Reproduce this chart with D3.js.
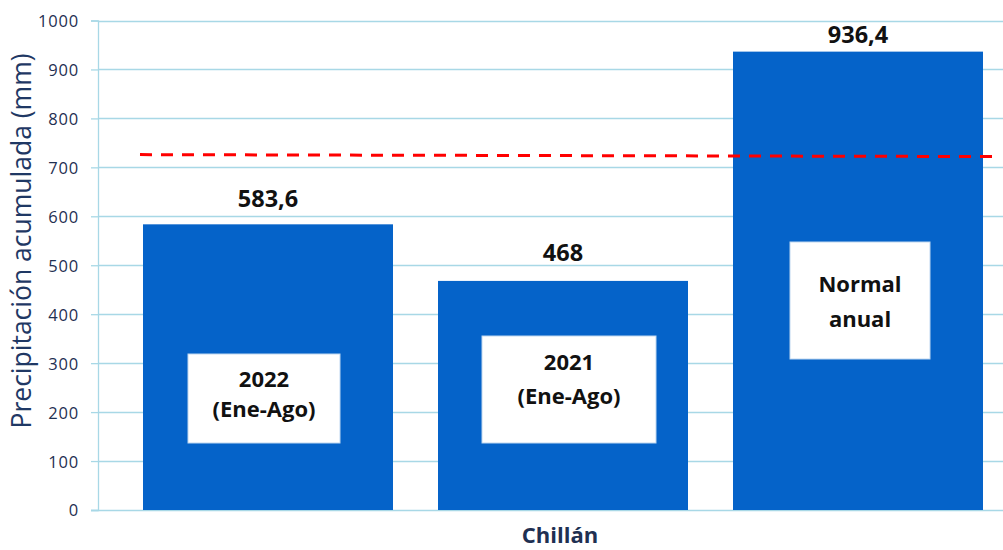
<!DOCTYPE html>
<html><head><meta charset="utf-8">
<script src="https://cdn.jsdelivr.net/npm/d3@7"></script>
<style>
html,body{margin:0;padding:0;background:#fff;}
svg{display:block;}
</style></head>
<body>
<svg id="chart" width="1003" height="550"></svg>
<script>
// ---- data ----
const categories = ["Chillán"];
const seriesNames = ["2022 (Ene-Ago)", "2021 (Ene-Ago)", "Normal anual"];
const seriesValues = [583.6, 468, 936.4];
const valueLabels = ["583,6", "468", "936,4"];
const boxLines = [["2022", "(Ene-Ago)"], ["2021", "(Ene-Ago)"], ["Normal", "anual"]];
const refLineValues = [726, 722];
const yTicks = [0, 100, 200, 300, 400, 500, 600, 700, 800, 900, 1000];
const yTitle = "Precipitación acumulada (mm)";

// ---- layout / style (not data) ----
const W = 1003, H = 550;
const plot = {left: 98, top: 20.5, bottom: 510, right: 1003};
const barColor = "#0563C9";
const gridColor = "#A8D8E6";
const navy = "#1F3052";
const labelOffsets = [17, 20, 9];
const boxes = [ // pixel layout of annotation boxes
  {dx: -4, w: 152, y0: 354, y1: 443, base: [387, 417]},
  {dx: 6, w: 174, y0: 336, y1: 443, base: [370, 404]},
  {dx: 2, w: 140, y0: 242, y1: 359, base: [292, 327]}
];

const svg = d3.select("#chart");

const y = d3.scaleLinear().domain([0, 1000]).range([plot.bottom, plot.top]);
const x = d3.scaleBand().domain(seriesNames).range([120.5, 1005.5])
  .paddingInner(45 / 295).paddingOuter(45 / 295 / 2);

// gridlines
svg.append("g").selectAll("line").data(yTicks.filter(d => d > 0)).join("line")
  .attr("x1", plot.left).attr("x2", plot.right)
  .attr("y1", d => Math.round(y(d)) + 0.5).attr("y2", d => Math.round(y(d)) + 0.5)
  .attr("stroke", gridColor).attr("stroke-width", 1.3);

// y axis
const yAxis = d3.axisLeft(y).tickValues(yTicks).tickSize(7).tickPadding(12).tickFormat(d3.format("d"));
const ga = svg.append("g").attr("transform", `translate(${plot.left},0)`).call(yAxis);
ga.select(".domain").attr("stroke", gridColor).attr("stroke-width", 1.3);
ga.selectAll(".tick line").attr("stroke", gridColor).attr("stroke-width", 1.3);
ga.selectAll(".tick text").attr("fill", navy)
  .style("font-family", "'Open Sans', sans-serif").style("font-size", "16.5px")
  .style("letter-spacing", "0.8px").attr("dy", "0.36em");

// x axis baseline
svg.append("line").attr("x1", plot.left - 7).attr("x2", plot.right)
  .attr("y1", y(0) + 0.5).attr("y2", y(0) + 0.5)
  .attr("stroke", gridColor).attr("stroke-width", 1.3);

// bars
svg.append("g").selectAll("rect").data(seriesNames).join("rect")
  .attr("x", d => x(d)).attr("width", x.bandwidth())
  .attr("y", (d, i) => y(seriesValues[i]))
  .attr("height", (d, i) => y(0) - y(seriesValues[i]))
  .attr("fill", barColor);

// value labels
svg.append("g").selectAll("text").data(seriesNames).join("text")
  .attr("x", d => x(d) + x.bandwidth() / 2)
  .attr("y", (d, i) => y(seriesValues[i]) - labelOffsets[i])
  .attr("text-anchor", "middle")
  .style("font-family", "'Open Sans', sans-serif").style("font-weight", "700")
  .style("font-size", "23.5px").attr("fill", "#111")
  .text((d, i) => valueLabels[i]);

// annotation boxes
seriesNames.forEach((s, i) => {
  const b = boxes[i];
  const cx = x(s) + x.bandwidth() / 2 + b.dx;
  svg.append("rect").attr("x", cx - b.w / 2).attr("y", b.y0)
    .attr("width", b.w).attr("height", b.y1 - b.y0)
    .attr("fill", "#fff").attr("stroke", "#BFD7F0").attr("stroke-width", 1);
  boxLines[i].forEach((t, j) => {
    svg.append("text").attr("x", cx).attr("y", b.base[j])
      .attr("text-anchor", "middle")
      .style("font-family", "'Open Sans', sans-serif").style("font-weight", "700")
      .style("font-size", "22px").attr("fill", "#111").text(t);
  });
});

// reference dashed line
const lx = d3.scaleLinear().domain([0, refLineValues.length - 1]).range([140, 1000]);
svg.append("path").datum(refLineValues)
  .attr("d", d3.line().x((d, i) => lx(i)).y(d => y(d)))
  .attr("fill", "none").attr("stroke", "#FF0000").attr("stroke-width", 3)
  .attr("stroke-dasharray", "12,9");

// category label
svg.append("text").attr("x", 560).attr("y", 543)
  .attr("text-anchor", "middle")
  .style("font-family", "'Open Sans', sans-serif").style("font-weight", "700")
  .style("font-size", "22px").attr("fill", navy).text(categories[0]);

// y title
svg.append("text").attr("transform", `translate(31,241) rotate(-90)`)
  .attr("text-anchor", "middle")
  .style("font-family", "'Open Sans', sans-serif").style("font-size", "26.5px")
  .attr("fill", "#1F3864").text(yTitle);
</script>
</body></html>
